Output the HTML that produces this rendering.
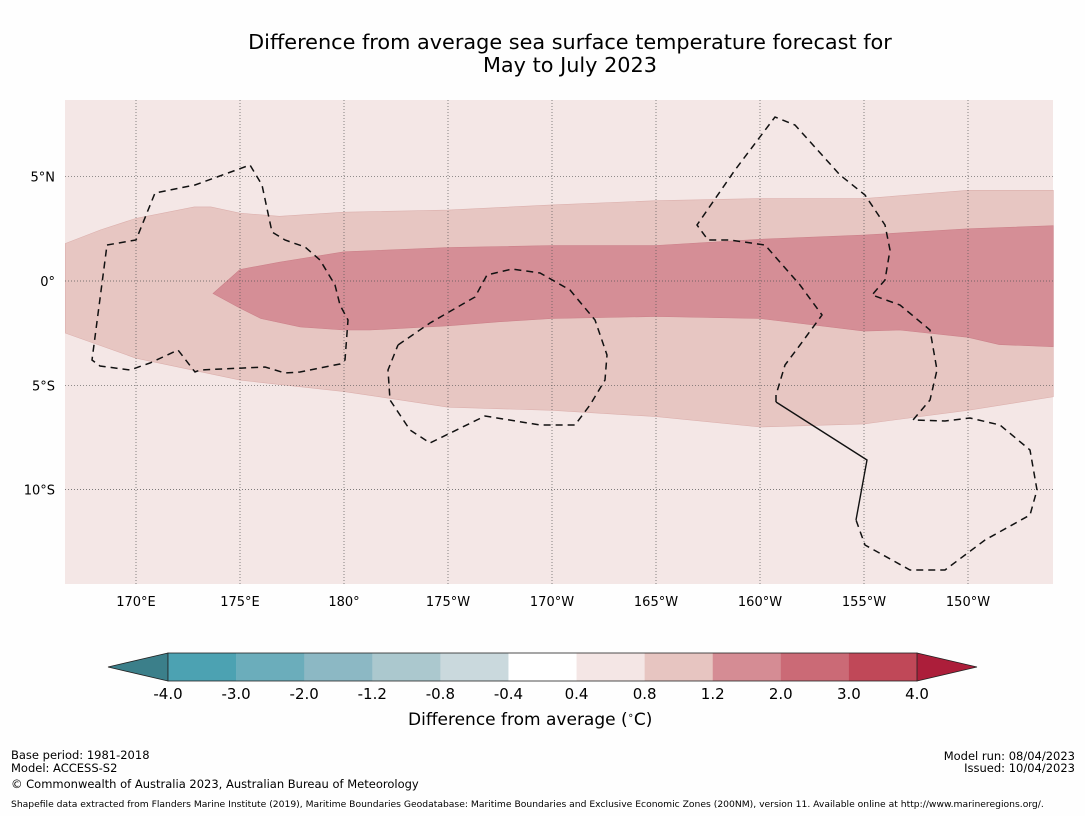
<!DOCTYPE html>
<html><head><meta charset="utf-8"><style>
body{margin:0;background:#fefefe;font-family:"DejaVu Sans","Liberation Sans",sans-serif;}
#wrap{position:relative;width:1085px;height:816px;overflow:hidden;background:#fefefe}
.t{position:absolute;white-space:nowrap;color:#000}
</style></head><body>
<div id="wrap">
<div class="t" style="left:0;width:1140px;top:31px;text-align:center;font-size:20.8px;line-height:23px">Difference from average sea surface temperature forecast for<br>May to July 2023</div>
<svg id="svg" width="1085" height="816" style="position:absolute;left:0;top:0"></svg>
<div class="t" style="left:408px;top:710px;font-size:17px">Difference from average (<sup style="font-size:10px">∘</sup>C)</div>
<div class="t" style="left:11px;top:748px;font-size:11.5px">Base period: 1981-2018</div>
<div class="t" style="left:11px;top:761px;font-size:11.5px">Model: ACCESS-S2</div>
<div class="t" style="left:11px;top:777px;font-size:11.5px">© Commonwealth of Australia 2023, Australian Bureau of Meteorology</div>
<div class="t" style="right:10px;top:749px;font-size:11.5px;text-align:right">Model run: 08/04/2023</div>
<div class="t" style="right:10px;top:761px;font-size:11.5px;text-align:right">Issued: 10/04/2023</div>
<div class="t" style="left:11px;top:799px;font-size:9.2px">Shapefile data extracted from Flanders Marine Institute (2019), Maritime Boundaries Geodatabase: Maritime Boundaries and Exclusive Economic Zones (200NM), version 11. Available online at http://www.marineregions.org/.</div>
</div>
<script>
const outerTopLon=[166.6,168.3,170,172.8,173.6,175,176.9,180,185,190,195,200,205,210,214.1];
const outerTopLat=[1.8,2.45,3.0,3.55,3.55,3.25,3.1,3.3,3.4,3.65,3.85,3.95,3.95,4.35,4.35];
const outerBotLon=[214.1,210,205,200,195,190,185,182.7,180,175,170,166.6];
const outerBotLat=[-5.55,-6.2,-6.85,-7.0,-6.5,-6.2,-6.05,-5.7,-5.3,-4.75,-3.7,-2.5];
const innerTopLon=[173.7,175,176.9,180,185,190,195,200,205,210,214.1];
const innerTopLat=[-0.6,0.55,0.9,1.4,1.6,1.7,1.7,2.0,2.2,2.5,2.65];
const innerBotLon=[214.1,211.5,210,206.7,205,200,195,190,187.5,185,181.25,180,177.9,176,175];
const innerBotLat=[-3.15,-3.05,-2.7,-2.35,-2.4,-1.8,-1.7,-1.8,-1.95,-2.15,-2.35,-2.35,-2.2,-1.8,-1.3];
const lonTicks=[170,175,180,185,190,195,200,205,210];
const lonLabels=["170°E","175°E","180°","175°W","170°W","165°W","160°W","155°W","150°W"];
const latTicks=[5,0,-5,-10];
const latLabels=["5°N","0°","5°S","10°S"];
const cbLabels=["-4.0","-3.0","-2.0","-1.2","-0.8","-0.4","0.4","0.8","1.2","2.0","3.0","4.0"];
const cbColors=["#4ca2b2","#6badbb","#8cb8c4","#abc8ce","#cad9dd","#ffffff","#f4e6e5","#e7c5c1","#d58c94","#cb6a76","#c04858"];

const MX0=65,MX1=1053,MY0=100,MY1=584;
const xS=lon=>136+(lon-170)*20.8;
const yS=lat=>281-lat*20.86;
const NS="http://www.w3.org/2000/svg";
const FF='DejaVu Sans, Liberation Sans, sans-serif';
const svg=document.getElementById('svg');
function mk(t,a){const e=document.createElementNS(NS,t);for(const k in a)e.setAttribute(k,a[k]);svg.appendChild(e);return e;}
function pts(lo,la){return lo.map((v,i)=>xS(v).toFixed(1)+','+yS(la[i]).toFixed(1)).join(' ');}

const bg=mk('rect',{x:MX0,y:MY0,width:MX1-MX0,height:MY1-MY0,fill:'#f4e7e6'});


const outer=mk('polygon',{points:pts(outerTopLon,outerTopLat)+' '+pts(outerBotLon,outerBotLat),fill:'#e7c6c2',stroke:'#dcb0ad','stroke-width':0.6});


const inner=mk('polygon',{points:pts(innerTopLon,innerTopLat)+' '+pts(innerBotLon,innerBotLat),fill:'#d58e96',stroke:'#cc8089','stroke-width':0.6});



lonTicks.forEach((lo,i)=>{
  const l=mk('line',{x1:xS(lo),x2:xS(lo),y1:MY0,y2:MY1,stroke:'#555','stroke-width':0.7,'stroke-dasharray':'1,2'});
  
  
  const t=mk('text',{x:xS(lo),y:606,'font-size':13,'text-anchor':'middle','font-family':FF});
  t.textContent=lonLabels[i];
  
  
});
latTicks.forEach((la,i)=>{
  const l=mk('line',{x1:MX0,x2:MX1,y1:yS(la),y2:yS(la),stroke:'#555','stroke-width':0.7,'stroke-dasharray':'1,2'});
  
  
  const t=mk('text',{x:55,y:yS(la)+5,'font-size':13,'text-anchor':'end','font-family':FF});
  t.textContent=latLabels[i];
  
  
});

const dash={fill:'none',stroke:'#111','stroke-width':1.5,'stroke-dasharray':'7,5'};
const b1=mk('polyline',Object.assign({points:"107,245 136,240 155,193 195,185 250,165 262,185 272,232 285,240 305,247 320,260 335,285 340,305 348,320 345,360 340,364 300,372 285,373 265,367 200,370 195,372 178,350 150,363 130,370 100,366 92,360 107,245"},dash));


const b2=mk('polyline',Object.assign({points:"398,345 430,323 475,297 487,275 512,269 540,273 570,290 595,320 607,355 605,380 590,405 575,425 540,425 485,416 430,443 410,430 390,400 388,370 398,345"},dash));


const b3=mk('polyline',Object.assign({points:"776,402 776,395 785,365 800,345 822,315 800,285 765,245 730,240 708,240 697,225 735,170 775,117 795,125 840,175 865,195 885,225 890,250 885,280 872,295 900,305 930,330 937,370 930,400 913,420 945,421 970,418 1000,425 1030,450 1037,490 1030,515 985,540 945,570 910,570 865,545 856,520"},dash));


const b4=mk('polyline',{points:"776,402 867,460 856,520",fill:'none',stroke:'#111','stroke-width':1.4});



const CX0=168,CX1=917,CY0=653,CY1=681,seg=(CX1-CX0)/cbColors.length;
const lt=mk('polygon',{points:`108,667 ${CX0},${CY0} ${CX0},${CY1}`,fill:'#3b7f8a',stroke:'#222','stroke-width':0.8});


const rt=mk('polygon',{points:`977,667 ${CX1},${CY0} ${CX1},${CY1}`,fill:'#ac1e3a',stroke:'#222','stroke-width':0.8});


cbColors.forEach((c,i)=>{
  const r=mk('rect',{x:CX0+i*seg,y:CY0,width:seg+0.3,height:CY1-CY0,fill:c});
  
  
});
const fr=mk('rect',{x:CX0,y:CY0,width:CX1-CX0,height:CY1-CY0,fill:'none',stroke:'#222','stroke-width':0.8});


cbLabels.forEach((s,i)=>{
  const t=mk('text',{x:CX0+i*seg,y:699,'font-size':15,'text-anchor':'middle','font-family':FF});
  t.textContent=s;
  
  
});
</script>
</body></html>
